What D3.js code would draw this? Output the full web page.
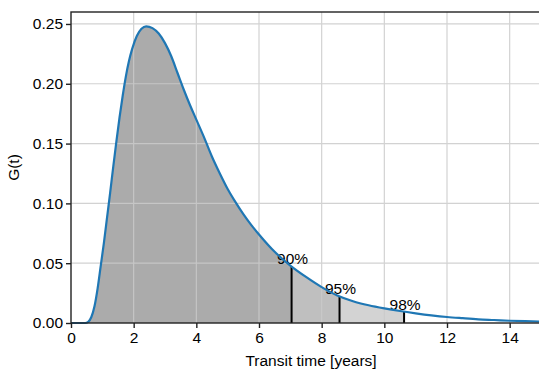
<!DOCTYPE html>
<html>
<head>
<meta charset="utf-8">
<script src="https://cdn.jsdelivr.net/npm/d3@7"></script>
<style>
  html, body { margin: 0; padding: 0; background: #fff; }
  svg { display: block; font-family: "Liberation Sans", Arial, Helvetica, sans-serif; }
</style>
</head>
<body>
<svg id="chart" width="539" height="370"></svg>
<script>
// Transit time distribution G(t), sampled along t (years)
const transitTime = [0, 0.45, 0.55, 0.65, 0.75, 0.85, 0.95, 1.05, 1.15, 1.25, 1.35, 1.45, 1.55, 1.65, 1.75, 1.85, 1.95, 2.1, 2.25, 2.4, 2.6, 2.8, 3.0, 3.2, 3.4, 3.6, 3.8, 4.0, 4.25, 4.5, 4.75, 5.0, 5.25, 5.5, 5.75, 6.0, 6.5, 7.0, 7.5, 8.0, 8.5, 9.0, 9.5, 10.0, 10.5, 11.0, 11.5, 12.0, 12.5, 13.0, 13.5, 14.0, 14.5, 15.0];
const density = [0, 0, 0.001, 0.005, 0.014, 0.029, 0.048, 0.067, 0.088, 0.109, 0.131, 0.152, 0.172, 0.190, 0.206, 0.219, 0.229, 0.240, 0.246, 0.248, 0.2465, 0.242, 0.234, 0.223, 0.209, 0.195, 0.182, 0.170, 0.155, 0.139, 0.125, 0.112, 0.101, 0.091, 0.082, 0.074, 0.0595, 0.048, 0.0385, 0.030, 0.023, 0.0182, 0.0148, 0.0122, 0.0100, 0.0081, 0.0064, 0.0050, 0.0040, 0.0031, 0.0025, 0.0019, 0.0015, 0.0012];

// Cumulative percentiles of the distribution
const percentileLabels = ["90%", "95%", "98%"];
const percentileTimes = [7.04, 8.57, 10.63];
const bandColors = ["#ababab", "#bfbfbf", "#d3d3d3"];

const xTicks = [0, 2, 4, 6, 8, 10, 12, 14];
const yTicks = [0, 0.05, 0.10, 0.15, 0.20, 0.25];

const margin = { left: 71, top: 12, right: 541, bottom: 323 };
const fontSize = 15.5;
const svg = d3.select("#chart");

const x = d3.scaleLinear().domain([0, 15]).range([margin.left, margin.right]);
const y = d3.scaleLinear().domain([0, 0.26]).range([margin.bottom, margin.top]);

const points = transitTime.map((t, i) => ({ t, g: density[i] }));

function valueAt(t) {
  const i = d3.bisector(d => d.t).right(points, t);
  if (i <= 0) return points[0].g;
  if (i >= points.length) return points[points.length - 1].g;
  const a = points[i - 1], b = points[i];
  return a.g + (b.g - a.g) * (t - a.t) / (b.t - a.t);
}

function segment(t0, t1) {
  const inner = points.filter(d => d.t > t0 && d.t < t1);
  return [{ t: t0, g: valueAt(t0) }, ...inner, { t: t1, g: valueAt(t1) }];
}

const curve = d3.curveMonotoneX;
const area = d3.area().x(d => x(d.t)).y0(y(0)).y1(d => y(d.g)).curve(curve);
const line = d3.line().x(d => x(d.t)).y(d => y(d.g)).curve(curve);

// Shaded bands up to each percentile
const bounds = [0, ...percentileTimes];
const bands = svg.append("g");
for (let k = 0; k < percentileTimes.length; k++) {
  bands.append("path")
    .attr("d", area(segment(bounds[k], bounds[k + 1])))
    .attr("fill", bandColors[k]);
}

// Grid
const grid = svg.append("g").attr("stroke", "#cbcbcb").attr("stroke-width", 1.2).attr("opacity", 0.85);
xTicks.filter(t => t > 0).forEach(t => {
  grid.append("line").attr("x1", x(t)).attr("x2", x(t)).attr("y1", y(0)).attr("y2", margin.top);
});
yTicks.filter(v => v > 0).forEach(v => {
  grid.append("line").attr("x1", margin.left).attr("x2", margin.right).attr("y1", y(v)).attr("y2", y(v));
});

// Percentile markers and labels
percentileTimes.forEach((t, k) => {
  const g = valueAt(t);
  svg.append("line")
    .attr("x1", x(t)).attr("x2", x(t))
    .attr("y1", y(0)).attr("y2", y(g))
    .attr("stroke", "#000").attr("stroke-width", 2);
  svg.append("text")
    .attr("x", x(t) + 1).attr("y", y(g) - 2)
    .attr("text-anchor", "middle")
    .attr("font-size", fontSize)
    .attr("fill", "#000")
    .text(percentileLabels[k]);
});

// Distribution curve
svg.append("path")
  .attr("d", line(points))
  .attr("fill", "none")
  .attr("stroke", "#1f77b4")
  .attr("stroke-width", 2.2);

// Axes
const xAxis = d3.axisBottom(x).tickValues(xTicks).tickFormat(d3.format("d")).tickSize(5).tickPadding(4);
const yAxis = d3.axisLeft(y).tickValues(yTicks).tickFormat(d3.format(".2f")).tickSize(5).tickPadding(3);

const gx = svg.append("g").attr("transform", `translate(0,${margin.bottom})`).call(xAxis);
const gy = svg.append("g").attr("transform", `translate(${margin.left},0)`).call(yAxis);
[gx, gy].forEach(g => {
  g.select(".domain").remove();
  g.selectAll(".tick line").attr("stroke", "#222").attr("stroke-width", 1.4);
  g.selectAll(".tick text").attr("font-size", fontSize).attr("fill", "#000")
    .attr("font-family", "'Liberation Sans', Arial, sans-serif");
});

// Frame
svg.append("rect")
  .attr("x", margin.left).attr("y", margin.top)
  .attr("width", margin.right - margin.left).attr("height", margin.bottom - margin.top)
  .attr("fill", "none").attr("stroke", "#222").attr("stroke-width", 1.4);

// Axis titles
svg.append("text")
  .attr("x", 311).attr("y", 366)
  .attr("text-anchor", "middle").attr("font-size", fontSize).attr("fill", "#000")
  .text("Transit time [years]");
svg.append("text")
  .attr("transform", `translate(19,${(margin.top + margin.bottom) / 2}) rotate(-90)`)
  .attr("text-anchor", "middle").attr("font-size", fontSize).attr("fill", "#000")
  .text("G(t)");
</script>
</body>
</html>
